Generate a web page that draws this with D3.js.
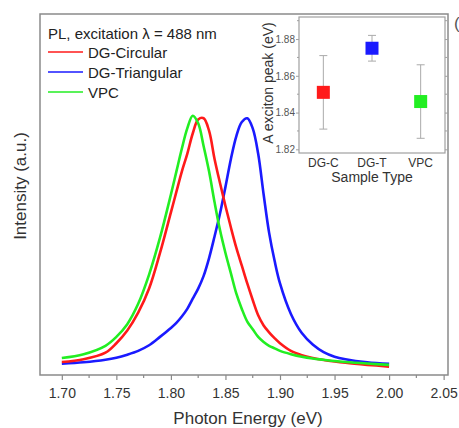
<!DOCTYPE html>
<html>
<head>
<meta charset="utf-8">
<script src="https://cdn.jsdelivr.net/npm/d3@7"></script>
<style>
  html, body { margin: 0; padding: 0; background: #fff; }
  svg { display: block; font-family: "Liberation Sans", Arial, sans-serif; }
</style>
</head>
<body>
<svg id="chart" width="459" height="428"></svg>
<script>
// ---------- data ----------
const energy = [1.70, 1.72, 1.74, 1.75, 1.76, 1.77, 1.78, 1.79, 1.80, 1.805, 1.81, 1.815, 1.82, 1.825, 1.83, 1.835, 1.84, 1.845, 1.85, 1.855, 1.86, 1.865, 1.87, 1.875, 1.88, 1.885, 1.89, 1.895, 1.90, 1.91, 1.92, 1.93, 1.94, 1.95, 1.96, 1.98, 2.00];
const dgCircular = [0.031, 0.042, 0.068, 0.105, 0.155, 0.225, 0.32, 0.46, 0.62, 0.70, 0.78, 0.85, 0.93, 0.985, 0.99, 0.94, 0.83, 0.735, 0.645, 0.56, 0.48, 0.41, 0.34, 0.275, 0.215, 0.175, 0.148, 0.125, 0.105, 0.075, 0.058, 0.047, 0.039, 0.033, 0.028, 0.02, 0.013];
const dgTriangular = [0.024, 0.03, 0.04, 0.048, 0.06, 0.075, 0.097, 0.13, 0.165, 0.185, 0.21, 0.24, 0.28, 0.32, 0.37, 0.44, 0.525, 0.615, 0.72, 0.83, 0.92, 0.975, 0.99, 0.95, 0.85, 0.69, 0.54, 0.43, 0.34, 0.22, 0.145, 0.10, 0.07, 0.052, 0.042, 0.03, 0.024];
const vpc = [0.047, 0.062, 0.095, 0.13, 0.18, 0.26, 0.375, 0.52, 0.69, 0.78, 0.87, 0.95, 1.00, 0.97, 0.88, 0.78, 0.66, 0.55, 0.46, 0.38, 0.30, 0.24, 0.19, 0.16, 0.13, 0.11, 0.095, 0.085, 0.075, 0.062, 0.052, 0.045, 0.04, 0.035, 0.031, 0.025, 0.02];
const seriesNames = ["DG-Circular", "DG-Triangular", "VPC"];
const seriesColors = ["#ff1a1a", "#1a1aff", "#22ee22"];
const xTicks = [1.70, 1.75, 1.80, 1.85, 1.90, 1.95, 2.00, 2.05];

// inset
const sampleTypes = ["DG-C", "DG-T", "VPC"];
const peakValues = [1.851, 1.875, 1.846];
const peakErrLow = [1.831, 1.868, 1.826];
const peakErrHigh = [1.871, 1.882, 1.866];
const insetTicks = [1.82, 1.84, 1.86, 1.88];

// ---------- main chart ----------
const svg = d3.select("#chart");
const M = { left: 40, top: 14, right: 448, bottom: 375 };
const x = d3.scaleLinear().domain([1.68, 2.054]).range([M.left, M.right]);
const y = d3.scaleLinear().domain([-0.02, 1.40]).range([M.bottom, M.top]);
const frameColor = "#8a8a8a";
const textColor = "#333";

// minor ticks
const minor = d3.range(1.725, 2.05, 0.05);
svg.append("g").selectAll("line").data(minor).join("line")
  .attr("x1", d => x(d)).attr("x2", d => x(d))
  .attr("y1", M.bottom).attr("y2", M.bottom + 3)
  .attr("stroke", frameColor).attr("stroke-width", 1.2);

const xAxis = d3.axisBottom(x).tickValues(xTicks).tickFormat(d3.format(".2f")).tickSize(5).tickSizeOuter(0);
const gx = svg.append("g").attr("transform", `translate(0,${M.bottom})`).call(xAxis);
gx.select(".domain").remove();
gx.selectAll(".tick line").attr("stroke", frameColor).attr("stroke-width", 1.2);
gx.selectAll(".tick text").attr("fill", textColor).attr("font-size", 14).attr("dy", "1.05em")
  .attr("font-family", "Liberation Sans, Arial, sans-serif");

// curves
const line = d3.line().curve(d3.curveCatmullRom.alpha(0.5))
  .x((d, i) => x(energy[i])).y(d => y(d));
[dgTriangular, dgCircular, vpc].forEach((s, k) => {
  const idx = [1, 0, 2][k];
  svg.append("path").datum(s).attr("d", line)
    .attr("fill", "none").attr("stroke", seriesColors[idx])
    .attr("stroke-width", 2.6).attr("stroke-linejoin", "round");
});

// frame
svg.append("rect").attr("x", M.left).attr("y", M.top)
  .attr("width", M.right - M.left).attr("height", M.bottom - M.top)
  .attr("fill", "none").attr("stroke", frameColor).attr("stroke-width", 1.5);

// titles
svg.append("text").attr("x", (M.left + M.right) / 2 + 4).attr("y", 424)
  .attr("text-anchor", "middle").attr("font-size", 17).attr("fill", textColor)
  .text("Photon Energy (eV)");
svg.append("text").attr("transform", "translate(26,186) rotate(-90)")
  .attr("text-anchor", "middle").attr("font-size", 17).attr("fill", textColor)
  .text("Intensity (a.u.)");

// legend
svg.append("text").attr("x", 48).attr("y", 38.5).attr("font-size", 15).attr("fill", "#222")
  .text("PL, excitation λ = 488 nm");
seriesNames.forEach((name, i) => {
  const ly = 52 + i * 20;
  svg.append("line").attr("x1", 48).attr("x2", 83).attr("y1", ly).attr("y2", ly)
    .attr("stroke", seriesColors[i]).attr("stroke-width", 1.6);
  svg.append("text").attr("x", 88).attr("y", ly + 5.5).attr("font-size", 15).attr("fill", "#222")
    .text(name);
});

// partial panel label (cut off at the right edge, as in the reference)
svg.append("text").attr("x", 454).attr("y", 29).attr("font-size", 17).attr("fill", "#555").text("(b)");

// ---------- inset ----------
const I = { left: 299, top: 17, right: 445, bottom: 153 };
const ix = d3.scalePoint().domain(sampleTypes).range([I.left, I.right]).padding(0.5);
const iy = d3.scaleLinear().domain([1.818, 1.892]).range([I.bottom, I.top]);
const insetFrame = "#a0a0a0";

svg.append("rect").attr("x", I.left).attr("y", I.top)
  .attr("width", I.right - I.left).attr("height", I.bottom - I.top)
  .attr("fill", "#fff").attr("stroke", insetFrame).attr("stroke-width", 1.2);

const iyAxis = d3.axisLeft(iy).tickValues(insetTicks).tickFormat(d3.format(".2f")).tickSize(3).tickSizeOuter(0);
const giy = svg.append("g").attr("transform", `translate(${I.left},0)`).call(iyAxis);
giy.select(".domain").remove();
giy.selectAll(".tick line").attr("stroke", insetFrame);
giy.selectAll(".tick text").attr("fill", "#555").attr("font-size", 10).attr("x", -4)
  .attr("font-family", "Liberation Sans, Arial, sans-serif");
const iyR = d3.axisRight(iy).tickValues(insetTicks).tickFormat("").tickSize(3).tickSizeOuter(0);
const giyR = svg.append("g").attr("transform", `translate(${I.right},0)`).call(iyR);
giyR.select(".domain").remove();
giyR.selectAll(".tick line").attr("stroke", insetFrame);
const insetMinor = [1.83, 1.85, 1.87, 1.89];
[I.left, I.right].forEach((xx, k) => {
  svg.append("g").selectAll("line").data(insetMinor).join("line")
    .attr("x1", xx).attr("x2", k === 0 ? xx - 2 : xx + 2)
    .attr("y1", d => iy(d)).attr("y2", d => iy(d))
    .attr("stroke", insetFrame);
});

// error bars
const eg = svg.append("g");
sampleTypes.forEach((s, i) => {
  const cx = ix(s);
  eg.append("line").attr("x1", cx).attr("x2", cx).attr("y1", iy(peakErrLow[i])).attr("y2", iy(peakErrHigh[i]))
    .attr("stroke", "#aaa").attr("stroke-width", 1);
  [peakErrLow[i], peakErrHigh[i]].forEach(v => {
    eg.append("line").attr("x1", cx - 4).attr("x2", cx + 4).attr("y1", iy(v)).attr("y2", iy(v))
      .attr("stroke", "#aaa").attr("stroke-width", 1);
  });
});
svg.append("g").selectAll("rect").data(peakValues).join("rect")
  .attr("x", (d, i) => ix(sampleTypes[i]) - 6.5).attr("y", d => iy(d) - 6.5)
  .attr("width", 13).attr("height", 13)
  .attr("fill", (d, i) => seriesColors[i]);

// inset x labels
svg.append("g").selectAll("text").data(sampleTypes).join("text")
  .attr("x", d => ix(d)).attr("y", 167).attr("text-anchor", "middle")
  .attr("font-size", 12).attr("fill", "#333").text(d => d);
svg.append("text").attr("x", 372).attr("y", 182).attr("text-anchor", "middle")
  .attr("font-size", 14).attr("fill", "#333").text("Sample Type");
svg.append("text").attr("transform", "translate(273,83) rotate(-90)")
  .attr("text-anchor", "middle").attr("font-size", 14).attr("fill", "#333")
  .text("A exciton peak (eV)");
</script>
</body>
</html>
